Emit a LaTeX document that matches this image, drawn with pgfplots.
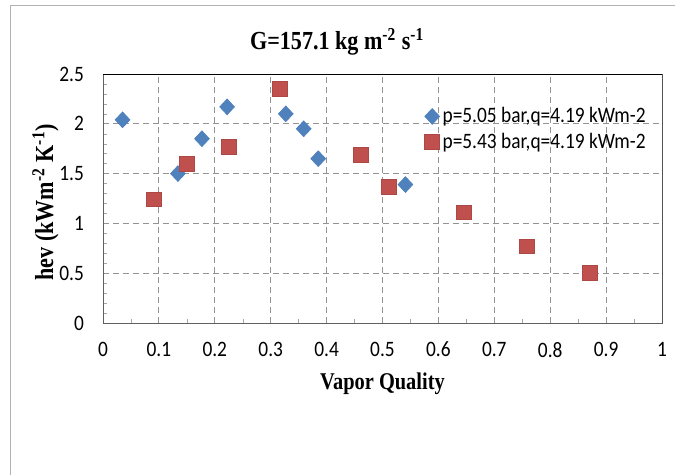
\documentclass[border=0pt]{standalone}
\usepackage{fontspec}
\setmainfont{Liberation Serif}[FakeStretch=0.85]
\newfontfamily\carl{Carlito}[FakeStretch=0.88]
\usepackage{pgfplots}
\pgfplotsset{compat=1.18}
\definecolor{xblue}{HTML}{4F81BD}
\definecolor{xred}{HTML}{C0504D}
\begin{document}
\begin{tikzpicture}
\useasboundingbox (-51.5pt,-76pt) rectangle (286pt,161.5pt);
\draw[gray!60] (-46.5pt,-76pt) -- (-46.5pt,159pt) -- (286pt,159pt);
\begin{axis}[
  at={(0pt,0pt)}, anchor=south west, scale only axis,
  width=279.5pt, height=124.5pt,
  xmin=0, xmax=1, ymin=0, ymax=2.5,
  xtick={0,0.1,0.2,0.3,0.4,0.5,0.6,0.7,0.8,0.9,1},
  ytick={0,0.5,1,1.5,2,2.5},
  minor x tick num=1, minor y tick num=4,
  tick pos=left, tick align=inside,
  major tick length=0pt, minor tick length=2pt,
  minor tick style={gray!70},
  grid=major, grid style={densely dashed, gray!85},
  axis line style={gray!75!black},
  /pgf/number format/assume math mode=true,
  ticklabel style={font=\carl\fontsize{11}{13}\selectfont},
  xticklabel style={yshift=-6pt},
  yticklabel style={xshift=-6pt},
  title={G=157.1 kg m\textsuperscript{-2} s\textsuperscript{-1}},
  title style={font=\bfseries\fontsize{13}{15}\selectfont, at={(axis description cs:0.419,1.08)}, anchor=center},
  xlabel={Vapor Quality},
  xlabel style={font=\bfseries\fontsize{12}{14}\selectfont, at={(axis description cs:0.5,-0.245)}, anchor=center},
  ylabel={hev (kWm\textsuperscript{-2} K\textsuperscript{-1})},
  ylabel style={font=\bfseries\fontsize{13}{15}\selectfont, at={(axis description cs:-0.103,0.485)}, anchor=center, rotate=0},
  legend style={draw=none, fill=none, at={(axis description cs:0.575,0.88)}, anchor=north west,
    font=\carl\fontsize{11}{13}\selectfont, row sep=0.8pt, inner sep=0pt,
    nodes={inner sep=1.5pt}},
  legend cell align=left,
  legend image code/.code={\draw[#1] plot coordinates {(0.12cm,0cm)};},
]
\addplot[only marks, mark=diamond*, mark size=3.9pt, mark options={xscale=1.25, fill=xblue, draw=xblue}]
  coordinates {
  (0.035,2.04) (0.134,1.50) (0.177,1.85) (0.222,2.17)
  (0.327,2.10) (0.359,1.95) (0.385,1.65) (0.541,1.39)
  };
\addlegendentry{p=5.05 bar,q=4.19 kWm-2}
\addplot[only marks, mark=square*, mark size=3.7pt, mark options={fill=xred, draw=xred!90!black}]
  coordinates {
  (0.091,1.24) (0.150,1.60) (0.225,1.77) (0.316,2.35) (0.462,1.69)
  (0.512,1.37) (0.646,1.11) (0.758,0.77) (0.871,0.50)
  };
\addlegendentry{p=5.43 bar,q=4.19 kWm-2}
\draw[black] (rel axis cs:0,1) -- (rel axis cs:1,1) -- (rel axis cs:1,0);
\end{axis}
\end{tikzpicture}
\end{document}
